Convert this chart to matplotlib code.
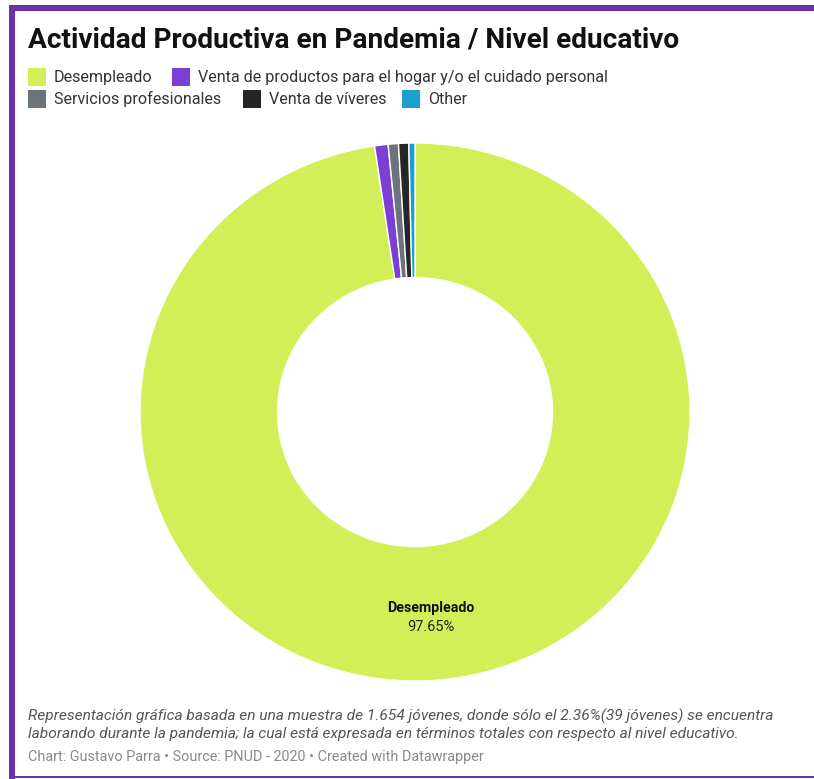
import numpy as np
import matplotlib.pyplot as plt
from matplotlib.patches import Rectangle

plt.rcParams['font.family'] = ['Roboto', 'DejaVu Sans']

categories = ['Desempleado', 'Venta de productos para el hogar y/o el cuidado personal',
              'Servicios profesionales', 'Venta de víveres', 'Other']
values = [97.65, 0.79, 0.60, 0.60, 0.36]
colors = ['#d3ef58', '#7d3ed6', '#6b737c', '#262626', '#19a0cf']

W, H = 814, 779
fig = plt.figure(figsize=(W / 100, H / 100), dpi=100)

# donut (screenshot is slightly squeezed vertically)
cx, cy, rx, ry = 415, 412, 275, 269
ax = fig.add_axes([(cx - rx) / W, (H - cy - ry) / H, 2 * rx / W, 2 * ry / H])
ax.pie(values, colors=colors, startangle=90, counterclock=False,
       wedgeprops=dict(width=0.5, edgecolor='white', linewidth=1))
ax.set_aspect('auto')
ax.set_xlim(-1, 1)
ax.set_ylim(-1, 1)

# label of the big slice at its mid angle
mid = np.deg2rad(90 - values[0] / sum(values) * 360 / 2)
lr = 0.765
ax.text(lr * np.cos(mid), lr * np.sin(mid) + 0.036, categories[0], fontsize=10.2,
        fontweight='bold', color='#111111', ha='center', va='center')
ax.text(lr * np.cos(mid), lr * np.sin(mid) - 0.036, f'{values[0]:.2f}%', fontsize=10.5,
        color='#222222', ha='center', va='center')

# overlay axes in pixel coordinates (y downwards)
ov = fig.add_axes([0, 0, 1, 1])
ov.set_xlim(0, W)
ov.set_ylim(H, 0)
ov.axis('off')

# purple frame
frame = '#7030a8'
ov.add_patch(Rectangle((9, 5), W - 9, 6, color=frame, lw=0))
ov.add_patch(Rectangle((9, 5), 6, H - 5, color=frame, lw=0))
ov.add_patch(Rectangle((9, 776), W - 9, 2, color=frame, lw=0))

ov.text(28, 40, 'Actividad Productiva en Pandemia / Nivel educativo', fontsize=20.2,
        fontweight='bold', color='#111111', va='center', ha='left')

# legend
leg_pos = [(28, 77), (172, 77), (28, 99), (243, 99), (402, 99)]
for (x, y), lab, c in zip(leg_pos, categories, colors):
    ov.add_patch(Rectangle((x, y - 9), 18, 18, color=c, lw=0))
    ov.text(x + 26, y, lab, fontsize=11.65, color='#333333', va='center', ha='left')

# footer
ov.text(28, 716, 'Representación gráfica basada en una muestra de 1.654 jóvenes, donde sólo el 2.36%(39 jóvenes) se encuentra',
        fontsize=11.15, style='italic', color='#555555', va='center', ha='left')
ov.text(28, 734, 'laborando durante la pandemia; la cual está expresada en términos totales con respecto al nivel educativo.',
        fontsize=11.15, style='italic', color='#555555', va='center', ha='left')
ov.text(28, 757, 'Chart: Gustavo Parra • Source: PNUD - 2020 • Created with Datawrapper',
        fontsize=10.4, color='#8a8a8a', va='center', ha='left')

fig.savefig('out.png', dpi=100)
